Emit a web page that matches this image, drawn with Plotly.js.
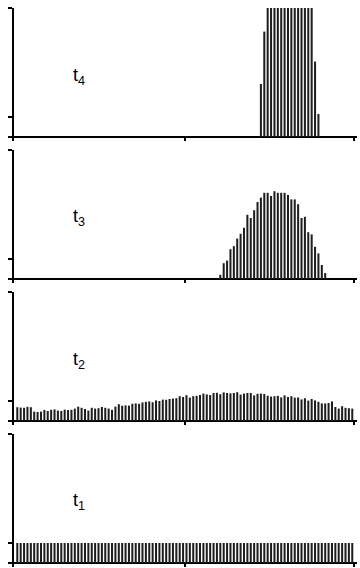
<!DOCTYPE html>
<html>
<head>
<meta charset="utf-8">
<script src="https://cdn.plot.ly/plotly-3.0.1.min.js"></script>
<style>
  html, body { margin: 0; padding: 0; background: #fff; }
  #chart { width: 360px; height: 568px; }
</style>
</head>
<body>
<div id="chart"></div>
<script>
// ---- data (bar heights per bin, 100 bins spanning -1..1) ----
const binWidth = 0.02;
const firstBinCenter = -0.99;

const t1Values = [
  1,1,1,1,1,1,1,1,1,1, 1,1,1,1,1,1,1,1,1,1,
  1,1,1,1,1,1,1,1,1,1, 1,1,1,1,1,1,1,1,1,1,
  1,1,1,1,1,1,1,1,1,1, 1,1,1,1,1,1,1,1,1,1,
  1,1,1,1,1,1,1,1,1,1, 1,1,1,1,1,1,1,1,1,1,
  1,1,1,1,1,1,1,1,1,1, 1,1,1,1,1,1,1,1,1,1
];

const t2Values = [
  0.69, 0.67, 0.66, 0.71, 0.69, 0.47, 0.45, 0.47, 0.55, 0.50,
  0.56, 0.58, 0.52, 0.50, 0.57, 0.55, 0.56, 0.62, 0.72, 0.66,
  0.60, 0.52, 0.66, 0.62, 0.64, 0.70, 0.66, 0.62, 0.56, 0.72,
  0.84, 0.76, 0.78, 0.77, 0.86, 0.88, 0.86, 0.93, 0.96, 0.98,
  0.94, 1.03, 1.00, 1.07, 1.06, 1.10, 1.12, 1.14, 1.24, 1.20,
  1.29, 1.17, 1.24, 1.26, 1.30, 1.37, 1.33, 1.30, 1.40, 1.41,
  1.34, 1.43, 1.40, 1.38, 1.40, 1.44, 1.32, 1.37, 1.40, 1.40,
  1.28, 1.36, 1.37, 1.35, 1.26, 1.22, 1.24, 1.26, 1.18, 1.28,
  1.20, 1.24, 1.17, 1.18, 1.08, 1.14, 1.02, 1.10, 1.03, 0.96,
  0.88, 0.88, 0.90, 0.98, 0.70, 0.62, 0.74, 0.66, 0.64, 0.62
];

const t3FirstBin = 60;
const t3Values = [
  0.21, 0.79, 0.92, 1.49, 1.64, 2.02, 2.26, 2.56, 3.21, 3.05,
  3.44, 3.85, 4.07, 4.31, 4.31, 4.15, 4.39, 4.31, 4.31, 4.31,
  4.20, 3.98, 3.98, 3.74, 3.05, 3.11, 2.34, 2.23, 1.61, 1.28,
  0.70, 0.30
];

const t4FirstBin = 72;
const t4Values = [
  2.65, 5.27, 7.2, 7.0, 7.4, 7.1, 7.6, 7.3, 7.5, 7.2,
  7.4, 7.0, 7.3, 7.1, 6.9, 6.8, 3.77, 1.15
];

const panelLabels = ['t<sub>4</sub>', 't<sub>3</sub>', 't<sub>2</sub>', 't<sub>1</sub>'];
const yTickVals = [0, 1, 6.44];
const xTickVals = [0, 1];

// ---- build ----
const panels = [
  { values: t4Values, first: t4FirstBin },
  { values: t3Values, first: t3FirstBin },
  { values: t2Values, first: 0 },
  { values: t1Values, first: 0 }
];
const domains = [
  [0.7625, 1.0],
  [0.508929, 0.746429],
  [0.255357, 0.492857],
  [0.001786, 0.239286]
];

const traces = [];
const layout = {
  width: 360, height: 568,
  margin: { l: 14, r: 3, t: 8, b: 0 },
  paper_bgcolor: '#fff', plot_bgcolor: '#fff',
  showlegend: false,
  bargap: 0.4,
  annotations: []
};

panels.forEach((p, i) => {
  const n = i + 1;
  const xa = n === 1 ? 'x' : 'x' + n;
  const ya = n === 1 ? 'y' : 'y' + n;
  traces.push({
    type: 'bar',
    x0: firstBinCenter + binWidth * p.first,
    dx: binWidth,
    y: p.values,
    xaxis: xa, yaxis: ya,
    marker: { color: '#1e1e1e', line: { width: 0 } },
    hoverinfo: 'skip'
  });
  const xKey = n === 1 ? 'xaxis' : 'xaxis' + n;
  const yKey = n === 1 ? 'yaxis' : 'yaxis' + n;
  layout[xKey] = {
    domain: [0, 1],
    anchor: ya,
    range: [-1.0095, 1.018],
    showgrid: false, zeroline: false, showline: false,
    tickmode: 'array', tickvals: xTickVals,
    ticks: 'inside', ticklen: 4, tickwidth: 1.5, tickcolor: '#000',
    showticklabels: false
  };
  layout[yKey] = {
    domain: domains[i],
    anchor: xa,
    range: [-0.2, 6.45],
    showgrid: false,
    zeroline: true, zerolinecolor: '#000', zerolinewidth: 2,
    showline: true, linecolor: '#000', linewidth: 2,
    tickmode: 'array', tickvals: yTickVals,
    ticks: 'outside', ticklen: 4, tickwidth: 1.5, tickcolor: '#000',
    showticklabels: false
  };
  layout.annotations.push({
    xref: xa, yref: ya,
    x: -0.625, y: 3.05,
    text: panelLabels[i],
    showarrow: false,
    xanchor: 'center', yanchor: 'middle',
    font: { family: 'Liberation Sans, Arial, sans-serif', size: 18, color: '#000' }
  });
});

Plotly.newPlot('chart', traces, layout, { staticPlot: true, displayModeBar: false });
</script>
</body>
</html>
